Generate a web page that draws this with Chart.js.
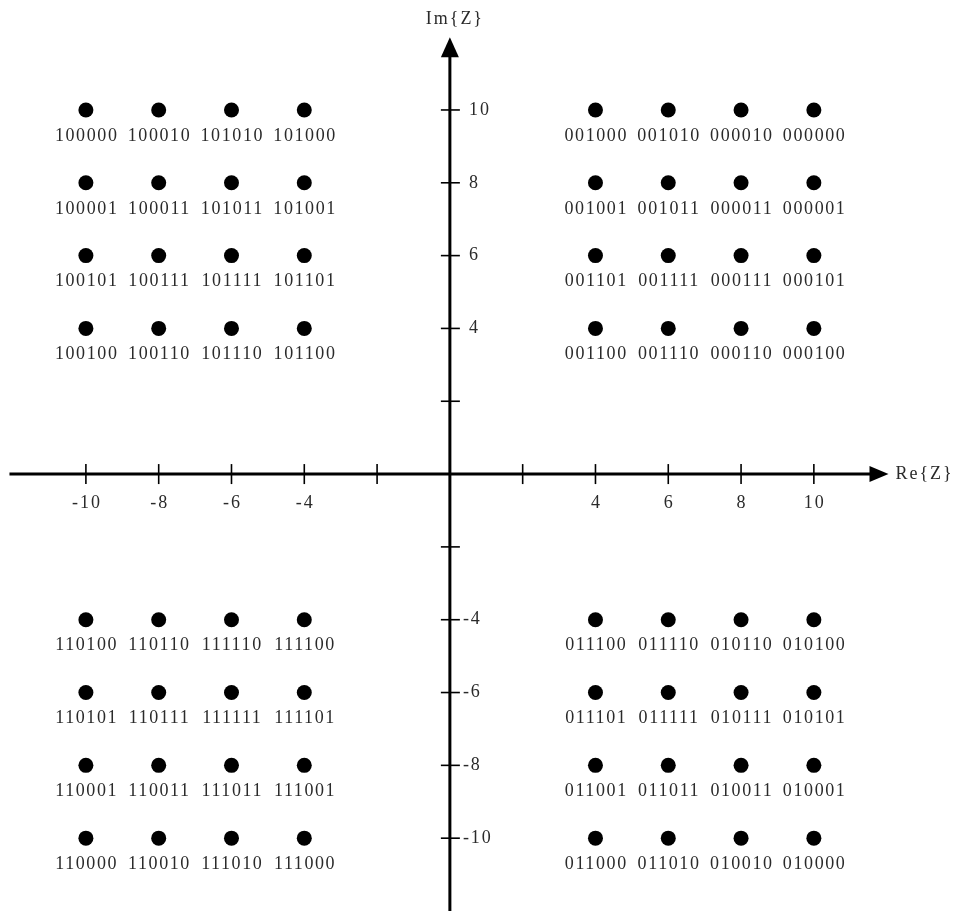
<!DOCTYPE html>
<html>
<head>
<meta charset="utf-8">
<title>64-QAM constellation (outer points)</title>
<script src="https://cdn.jsdelivr.net/npm/chart.js@4.4.1/dist/chart.umd.min.js"></script>
<style>
  html, body { margin: 0; padding: 0; background: #fff; }
  #wrap { width: 962px; height: 911px; position: relative; }
</style>
</head>
<body>
<div id="wrap"><canvas id="constellation"></canvas></div>
<script>
// Re / Im levels of the constellation points
const RE_LEVELS = [-10, -8, -6, -4, 4, 6, 8, 10];
const IM_LEVELS = [10, 8, 6, 4, -4, -6, -8, -10];

// bit mapping: one row per Im level (top to bottom), one column per Re level (left to right)
const BIT_LABELS = [
  ["100000", "100010", "101010", "101000", "001000", "001010", "000010", "000000"],
  ["100001", "100011", "101011", "101001", "001001", "001011", "000011", "000001"],
  ["100101", "100111", "101111", "101101", "001101", "001111", "000111", "000101"],
  ["100100", "100110", "101110", "101100", "001100", "001110", "000110", "000100"],
  ["110100", "110110", "111110", "111100", "011100", "011110", "010110", "010100"],
  ["110101", "110111", "111111", "111101", "011101", "011111", "010111", "010101"],
  ["110001", "110011", "111011", "111001", "011001", "011011", "010011", "010001"],
  ["110000", "110010", "111010", "111000", "011000", "011010", "010010", "010000"],
];

// axis ticks (the +-2 ticks carry no label)
const RE_TICKS = [-10, -8, -6, -4, -2, 2, 4, 6, 8, 10];
const RE_TICK_LABELS = ["-10", "-8", "-6", "-4", "", "", "4", "6", "8", "10"];
const IM_TICKS = [10, 8, 6, 4, 2, -2, -4, -6, -8, -10];
const IM_TICK_LABELS = ["10", "8", "6", "4", "", "", "-4", "-6", "-8", "-10"];

// where the drawn axes start and end (arrow tips at the positive ends)
const RE_AXIS = [-12.1, 12.05];
const IM_AXIS = [-12.2, 12.0];

const RE_NAME = "Re{Z}";
const IM_NAME = "Im{Z}";

const FONT = '18px "Liberation Serif", "DejaVu Serif", serif';
const TEXT_COLOR = "#2a2a2a";

// flatten the grid into scatter points
const points = [];
const pointLabels = [];
IM_LEVELS.forEach((im, r) => {
  RE_LEVELS.forEach((re, c) => {
    points.push({ x: re, y: im });
    pointLabels.push(BIT_LABELS[r][c]);
  });
});

function setText(ctx, spacing) {
  ctx.font = FONT;
  ctx.fillStyle = TEXT_COLOR;
  if ("letterSpacing" in ctx) ctx.letterSpacing = spacing + "px";
}

// centred text, compensating for the trailing letter spacing
function drawCentered(ctx, text, x, y, spacing) {
  ctx.textAlign = "center";
  ctx.fillText(text, x + spacing / 2, y);
}

const complexAxes = {
  id: "complexAxes",
  beforeDatasetsDraw(chart) {
    const ctx = chart.ctx;
    const xs = chart.scales.x;
    const ys = chart.scales.y;
    const x0 = xs.getPixelForValue(0);
    const y0 = ys.getPixelForValue(0);
    const xL = xs.getPixelForValue(RE_AXIS[0]);
    const xR = xs.getPixelForValue(RE_AXIS[1]);
    const yB = ys.getPixelForValue(IM_AXIS[0]);
    const yT = ys.getPixelForValue(IM_AXIS[1]);

    ctx.save();
    ctx.strokeStyle = "#000";
    ctx.fillStyle = "#000";
    ctx.lineWidth = 3;

    // horizontal axis + arrow
    ctx.beginPath();
    ctx.moveTo(xL, y0);
    ctx.lineTo(xR - 12, y0);
    ctx.stroke();
    ctx.beginPath();
    ctx.moveTo(xR, y0);
    ctx.lineTo(xR - 19, y0 - 8);
    ctx.lineTo(xR - 19, y0 + 8);
    ctx.closePath();
    ctx.fill();

    // vertical axis + arrow
    ctx.beginPath();
    ctx.moveTo(x0, yB);
    ctx.lineTo(x0, yT + 12);
    ctx.stroke();
    ctx.beginPath();
    ctx.moveTo(x0, yT);
    ctx.lineTo(x0 - 9, yT + 20);
    ctx.lineTo(x0 + 9, yT + 20);
    ctx.closePath();
    ctx.fill();

    // tick marks
    ctx.lineWidth = 1.6;
    RE_TICKS.forEach((v) => {
      const px = xs.getPixelForValue(v);
      ctx.beginPath();
      ctx.moveTo(px, y0 - 10);
      ctx.lineTo(px, y0 + 10);
      ctx.stroke();
    });
    IM_TICKS.forEach((v) => {
      const py = ys.getPixelForValue(v);
      ctx.beginPath();
      ctx.moveTo(x0 - 9, py);
      ctx.lineTo(x0 + 10, py);
      ctx.stroke();
    });

    // tick labels
    setText(ctx, 2);
    ctx.textBaseline = "middle";
    RE_TICKS.forEach((v, i) => {
      if (!RE_TICK_LABELS[i]) return;
      drawCentered(ctx, RE_TICK_LABELS[i], xs.getPixelForValue(v), y0 + 29, 2);
    });
    ctx.textAlign = "left";
    IM_TICKS.forEach((v, i) => {
      if (!IM_TICK_LABELS[i]) return;
      const lbl = IM_TICK_LABELS[i];
      const px = lbl.startsWith("-") ? x0 + 13 : x0 + 19;
      ctx.fillText(lbl, px, ys.getPixelForValue(v));
    });

    // axis names
    ctx.textAlign = "left";
    ctx.fillText(RE_NAME, xR + 7, y0);
    drawCentered(ctx, IM_NAME, x0 + 4, yT - 18, 2);
    ctx.restore();
  },
  afterDatasetsDraw(chart) {
    const ctx = chart.ctx;
    const meta = chart.getDatasetMeta(0);
    ctx.save();
    setText(ctx, 1.6);
    ctx.textBaseline = "middle";
    meta.data.forEach((pt, i) => {
      drawCentered(ctx, pointLabels[i], pt.x, pt.y + 26, 1.6);
    });
    ctx.restore();
  },
};

new Chart(document.getElementById("constellation"), {
  type: "scatter",
  data: {
    datasets: [
      {
        data: points,
        pointRadius: 7.5,
        pointHoverRadius: 7.5,
        pointBackgroundColor: "#000",
        pointBorderColor: "#000",
        pointBorderWidth: 0,
        clip: false,
      },
    ],
  },
  options: {
    responsive: true,
    maintainAspectRatio: false,
    animation: false,
    events: [],
    layout: { padding: 0, autoPadding: false },
    plugins: {
      legend: { display: false },
      tooltip: { enabled: false },
    },
    scales: {
      x: { type: "linear", min: -12.36, max: 14.07, display: false },
      y: { type: "linear", min: -12.0, max: 13.02, display: false },
    },
  },
  plugins: [complexAxes],
});
</script>
</body>
</html>
